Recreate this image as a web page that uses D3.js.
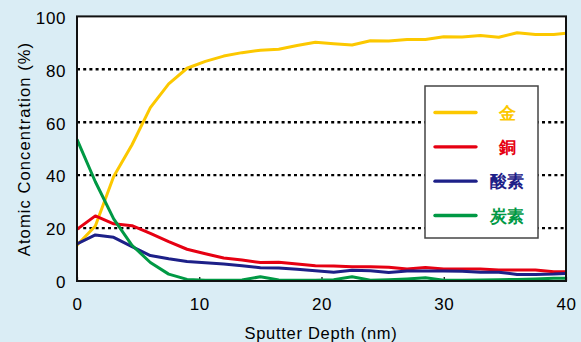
<!DOCTYPE html>
<html><head><meta charset="utf-8">
<script src="https://cdn.jsdelivr.net/npm/d3@7"></script>
<style>
html,body{margin:0;padding:0;background:#daedf5;}
svg{display:block;}
text{font-family:"Liberation Sans",Arial,Helvetica,sans-serif;}
</style></head>
<body>
<svg id="chart" width="581" height="342"></svg>
<script>
const depth = [0,1.5,3,4.5,6,7.5,9,10.5,12,13.5,15,16.5,18,19.5,21,22.5,24,25.5,27,28.5,30,31.5,33,34.5,36,37.5,39,40.5];
const gold   = [13.5,20.8,39.5,51.5,65.5,74.5,80.4,83,85,86.3,87.2,87.6,89,90.2,89.7,89.2,90.8,90.7,91.3,91.3,92.3,92.2,92.8,92.1,93.8,93.2,93.2,93.8];
const copper = [19.5,24.6,21.6,20.9,18,14.9,12,10.3,8.7,7.9,7.0,7.1,6.4,5.8,5.7,5.4,5.4,5.2,4.5,5.1,4.5,4.5,4.5,4.2,4.2,4.2,3.5,3.5];
const oxygen = [14,17.4,16.5,13,9.6,8.4,7.4,6.9,6.4,5.8,5.0,4.9,4.4,3.9,3.3,4.1,3.9,3.2,3.8,3.8,3.8,3.7,3.3,3.3,2.5,2.5,2.6,2.9];
const carbon = [53.5,37.5,23.5,13.5,7,2.6,0.6,0.3,0.3,0.4,1.6,0.4,0.3,0.3,0.5,1.6,0.3,0.5,0.8,1.2,0.3,0.3,0.4,0.5,0.6,0.8,1.0,1.0];
const seriesNames = ["金","銅","酸素","炭素"];
const seriesColors = ["#fcc800","#e60012","#1d2088","#009944"];
const xTicks = [0,10,20,30,40];
const yTicks = [0,20,40,60,80,100];
const gridValues = [20,40,60,80];

const svg = d3.select("#chart");
const L=77, R=566, T=16.4, B=281;
const x = d3.scaleLinear().domain([0,40]).range([L,R]);
const y = d3.scaleLinear().domain([0,100]).range([B,T]);

svg.append("rect").attr("x",L).attr("y",T).attr("width",R-L).attr("height",B-T).attr("fill","#fff");

svg.append("defs").append("clipPath").attr("id","clip")
  .append("rect").attr("x",L).attr("y",T).attr("width",R-L).attr("height",B-T);

// grid
svg.append("g").selectAll("line").data(gridValues).join("line")
  .attr("x1",L).attr("x2",R).attr("y1",d=>y(d)).attr("y2",d=>y(d))
  .attr("stroke","#000").attr("stroke-width",2.4).attr("stroke-dasharray","3,3.2");

// x ticks inward
const xAxis = d3.axisBottom(x).tickValues(xTicks).tickSize(-4).tickPadding(17).tickFormat(d3.format("d"));
const gx = svg.append("g").attr("transform",`translate(0,${B})`).call(xAxis);
gx.select(".domain").remove();
gx.selectAll("line").attr("stroke","#000").attr("stroke-width",1.2);
gx.selectAll("text").attr("font-size",17).attr("letter-spacing","0.6px").attr("fill","#000")
  .attr("font-family","'Liberation Sans',Arial,sans-serif");

const yAxis = d3.axisLeft(y).tickValues(yTicks).tickSize(0).tickPadding(11).tickFormat(d3.format("d"));
const gy = svg.append("g").attr("transform",`translate(${L},0)`).call(yAxis);
gy.select(".domain").remove();
gy.selectAll("text").attr("font-size",17).attr("letter-spacing","0.6px").attr("fill","#000")
  .attr("font-family","'Liberation Sans',Arial,sans-serif").attr("dy","0.4em");

// lines
const allSeries = [gold, copper, oxygen, carbon];
const line = d3.line().x((d,i)=>x(depth[i])).y(d=>y(d));
const lg = svg.append("g").attr("clip-path","url(#clip)");
allSeries.forEach((s,k)=>{
  lg.append("path").datum(s).attr("d",line).attr("fill","none")
    .attr("stroke",seriesColors[k]).attr("stroke-width",3).attr("stroke-linejoin","round");
});

// frame
svg.append("rect").attr("x",L).attr("y",T).attr("width",R-L).attr("height",B-T)
  .attr("fill","none").attr("stroke","#111").attr("stroke-width",2);

// axis titles
svg.append("text").attr("x",321).attr("y",339).attr("text-anchor","middle")
  .attr("font-size",16.5).attr("letter-spacing","0.7px").attr("fill","#000").text("Sputter Depth (nm)");
svg.append("text").attr("transform","translate(30,149) rotate(-90)").attr("text-anchor","middle")
  .attr("font-size",16.5).attr("letter-spacing","1.1px").attr("fill","#000").text("Atomic Concentration (%)");

// legend
const lgd = svg.append("g");
lgd.append("rect").attr("x",425).attr("y",86).attr("width",113).attr("height",152)
  .attr("fill","#fff").attr("stroke","#444").attr("stroke-width",1.5);
const rowY = d3.scalePoint().domain(seriesNames).range([112.5,215.5]);
seriesNames.forEach((n,k)=>{
  lgd.append("line").attr("x1",435).attr("x2",476).attr("y1",rowY(n)).attr("y2",rowY(n))
    .attr("stroke",seriesColors[k]).attr("stroke-width",3.4).attr("stroke-linecap","round");
  lgd.append("text").attr("x",507).attr("y",rowY(n)).attr("dy","0.36em").attr("text-anchor","middle")
    .attr("font-family","'Noto Sans CJK JP','Noto Sans CJK SC',sans-serif").attr("font-weight","bold")
    .attr("font-size",17).attr("fill",seriesColors[k]).text(n);
});
</script>
</body></html>
